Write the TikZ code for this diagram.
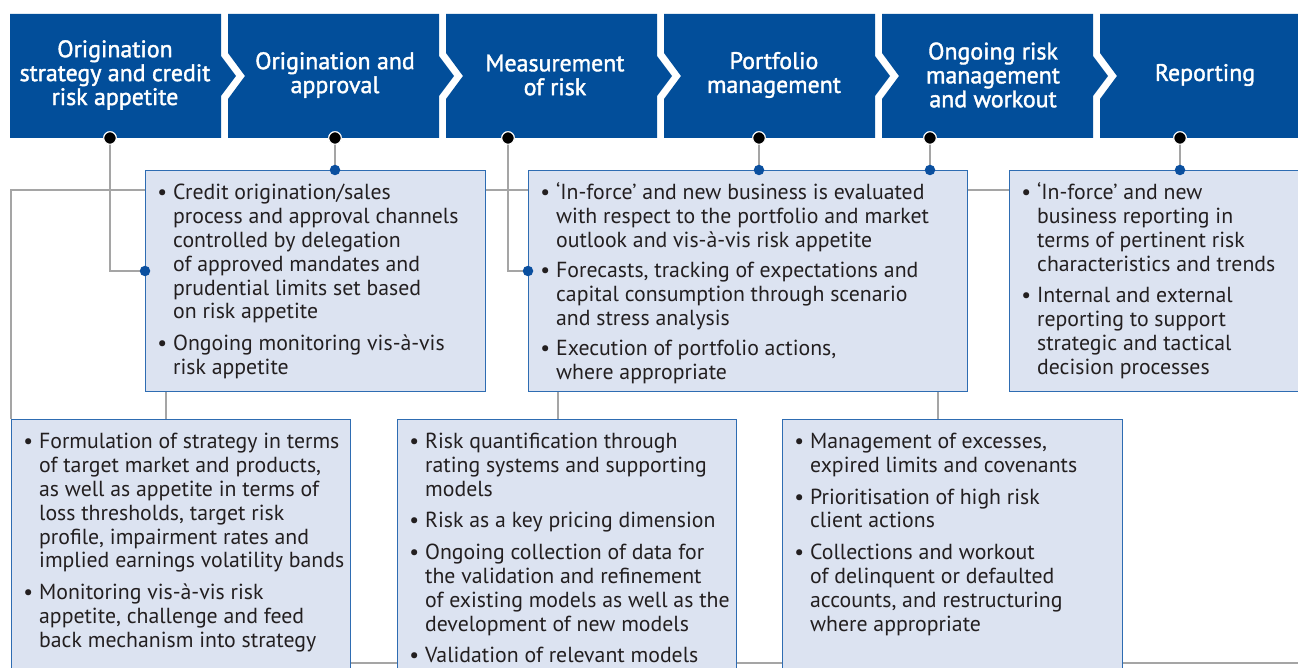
\documentclass[tikz,border=0pt]{standalone}
\usepackage{fontspec}
\setmainfont{PT Sans}
\newfontfamily\hdfont{PT Sans}[FakeBold=1.6]
\usepackage{xcolor}
\usepackage{tikz}
\usetikzlibrary{calc}

\definecolor{hdblue}{HTML}{024E9A}
\definecolor{boxfill}{HTML}{DCE3F1}
\definecolor{boxline}{HTML}{2E6CB2}
\definecolor{linegray}{HTML}{A5A5A5}
\definecolor{dotblue}{HTML}{0A4F9F}
\definecolor{txtgray}{HTML}{231F20}

\tikzset{
  hdtext/.style={text=white, align=center, inner sep=0pt, font=\fontsize{13.6}{13.6}\selectfont\hdfont},
  box/.style={draw=boxline, fill=boxfill, line width=0.6pt, anchor=north west, inner sep=0pt},
  txt/.style={anchor=base west, inner sep=0pt, text=txtgray, font=\fontsize{12.4}{13.6}\selectfont},
  conn/.style={draw=linegray, line width=0.6pt},
  bdot/.style={circle, fill=black, draw=white, line width=0.6pt, inner sep=0pt, minimum size=0.25cm},
  udot/.style={circle, fill=dotblue, inner sep=0pt, minimum size=0.21cm}
}

\begin{document}
\begin{tikzpicture}[x=0.02cm, y=-0.02cm]
    \useasboundingbox (0,0) rectangle (1298,668);
    \clip (0,0) rectangle (1298,668);
    % header chevrons
    \fill[hdblue] (10,14) -- (221,14) -- (221,56) -- (236,76) -- (221,96) -- (221,138) -- (10,138) -- cycle;
    \foreach \L in {228,446,664,882}{
      \fill[hdblue] (\L,14) -- ({\L+211},14) -- ({\L+211},56) -- ({\L+226},76) -- ({\L+211},96)
        -- ({\L+211},138) -- (\L,138) -- (\L,99) -- ({\L+17},76) -- (\L,53) -- cycle;
    }
    \fill[hdblue] (1100,14) -- (1310,14) -- (1310,138) -- (1100,138) -- (1100,99) -- (1117,76) -- (1100,53) -- cycle;
    % label
    \node[hdtext] (h1) at (115,75) {Origination\\strategy and credit\\risk appetite};
    \node[hdtext] (h2) at (335,75) {Origination and\\approval};
    \node[hdtext] (h3) at (555,75) {Measurement\\of risk};
    \node[hdtext] (h4) at (774,75) {Portfolio\\management};
    \node[hdtext] (h5) at (993,75) {Ongoing risk\\management\\and workout};
    \node[hdtext] (h6) at (1205,75) {Reporting};

    % boxes
    \node[box, minimum width=6.8cm, minimum height=4.42cm] (A) at (145,170) {};
    \node[box, minimum width=8.78cm, minimum height=4.42cm] (B) at (528,170) {};
    \node[box, minimum width=6.02cm, minimum height=4.42cm] (C) at (1009,170) {};
    \node[box, minimum width=6.78cm, minimum height=5.6cm] (D) at (11,419) {};
    \node[box, minimum width=6.78cm, minimum height=5.6cm] (E) at (397,419) {};
    \node[box, minimum width=6.8cm, minimum height=5.6cm] (F) at (782,419) {};

    % dots under the header
    \node[bdot] (d1) at (110,138) {};
    \node[bdot] (d2) at (335,138) {};
    \node[bdot] (d3) at (508,138) {};
    \node[bdot] (d4) at (759,138) {};
    \node[bdot] (d5) at (930,138) {};
    \node[bdot] (d6) at (1180,138) {};
    \coordinate (rend) at (1298,663);

    % lines
    \draw[conn] (d1.center) |- (A.west |- 0,271);
    \draw[conn] (d2.center) -- (d2 |- A.north);
    \draw[conn] (d3.center) |- (B.west |- 0,271);
    \draw[conn] (d4.center) -- (d4 |- B.north);
    \draw[conn] (d5.center) -- (d5 |- B.north);
    \draw[conn] (d6.center) -- (d6 |- C.north);
    \draw[conn] (D.north west) -- (D.north west |- 0,190) -- (A.west |- 0,190);
    \draw[conn] (A.east |- 0,190) -- (B.west |- 0,190);
    \draw[conn] (B.east |- 0,190) -- (C.west |- 0,190);
    \draw[conn] (A.south -| 166,0) -- (D.north -| 166,0);
    \draw[conn] (B.south -| 558,0) -- (E.north -| 558,0);
    \draw[conn] (B.south -| 938,0) -- (F.north -| 938,0);
    \draw[conn] (D.east |- 0,663) -- (E.west |- 0,663);
    \draw[conn] (E.east |- 0,663) -- (F.west |- 0,663);
    \draw[conn] (F.east |- 0,663) -- (rend);

    % redraw header dots on top, blue dots on the boxes
    \node[bdot] at (d1) {};
    \node[bdot] at (d2) {};
    \node[bdot] at (d3) {};
    \node[bdot] at (d4) {};
    \node[bdot] at (d5) {};
    \node[bdot] at (d6) {};
    \node[udot] (a1) at (A.west |- 0,271) {};
    \node[udot] (a2) at (d2 |- A.north) {};
    \node[udot] (b1) at (B.west |- 0,271) {};
    \node[udot] (b2) at (d4 |- B.north) {};
    \node[udot] (b3) at (d5 |- B.north) {};
    \node[udot] (c1) at (d6 |- C.north) {};

    % texts
    \node[txt] (At) at ($(A.north west)+(12,29.5)$) {\begin{tabular}[t]{@{}p{9pt}@{}l@{}}
      \textbullet & Credit origination/sales\\
      & process and approval channels\\
      & controlled by delegation\\
      & of approved mandates and\\
      & prudential limits set based\\
      & on risk appetite\\[4.4pt]
      \textbullet & Ongoing monitoring vis-à-vis\\
      & risk appetite
    \end{tabular}};
    \node[txt] (Bt) at ($(B.north west)+(12,29.5)$) {\begin{tabular}[t]{@{}p{9pt}@{}l@{}}
      \textbullet & ‘In-force’ and new business is evaluated\\
      & with respect to the portfolio and market\\
      & outlook and vis-à-vis risk appetite\\[3.6pt]
      \textbullet & Forecasts, tracking of expectations and\\
      & capital consumption through scenario\\
      & and stress analysis\\[3.6pt]
      \textbullet & Execution of portfolio actions,\\
      & where appropriate
    \end{tabular}};
    \node[txt] (Ct) at ($(C.north west)+(12,29.5)$) {\begin{tabular}[t]{@{}p{9pt}@{}l@{}}
      \textbullet & ‘In-force’ and new\\
      & business reporting in\\
      & terms of pertinent risk\\
      & characteristics and trends\\[4.4pt]
      \textbullet & Internal and external\\
      & reporting to support\\
      & strategic and tactical\\
      & decision processes
    \end{tabular}};
    \node[txt] (Dt) at ($(D.north west)+(12,29.5)$) {\begin{tabular}[t]{@{}p{9pt}@{}l@{}}
      \textbullet & Formulation of strategy in terms\\
      & of target market and products,\\
      & as well as appetite in terms of\\
      & loss thresholds, target risk\\
      & profile, impairment rates and\\
      & implied earnings volatility bands\\[4.2pt]
      \textbullet & Monitoring vis-à-vis risk\\
      & appetite, challenge and feed\\
      & back mechanism into strategy
    \end{tabular}};
    \node[txt] (Et) at ($(E.north west)+(12,29.5)$) {\begin{tabular}[t]{@{}p{9pt}@{}l@{}}
      \textbullet & Risk quantification through\\
      & rating systems and supporting\\
      & models\\[4.4pt]
      \textbullet & Risk as a key pricing dimension\\[4.4pt]
      \textbullet & Ongoing collection of data for\\
      & the validation and refinement\\
      & of existing models as well as the\\
      & development of new models\\[4.4pt]
      \textbullet & Validation of relevant models
    \end{tabular}};
    \node[txt] (Ft) at ($(F.north west)+(12,29.5)$) {\begin{tabular}[t]{@{}p{9pt}@{}l@{}}
      \textbullet & Management of excesses,\\
      & expired limits and covenants\\[4.4pt]
      \textbullet & Prioritisation of high risk\\
      & client actions\\[4.4pt]
      \textbullet & Collections and workout\\
      & of delinquent or defaulted\\
      & accounts, and restructuring\\
      & where appropriate
    \end{tabular}};
\end{tikzpicture}
\end{document}
